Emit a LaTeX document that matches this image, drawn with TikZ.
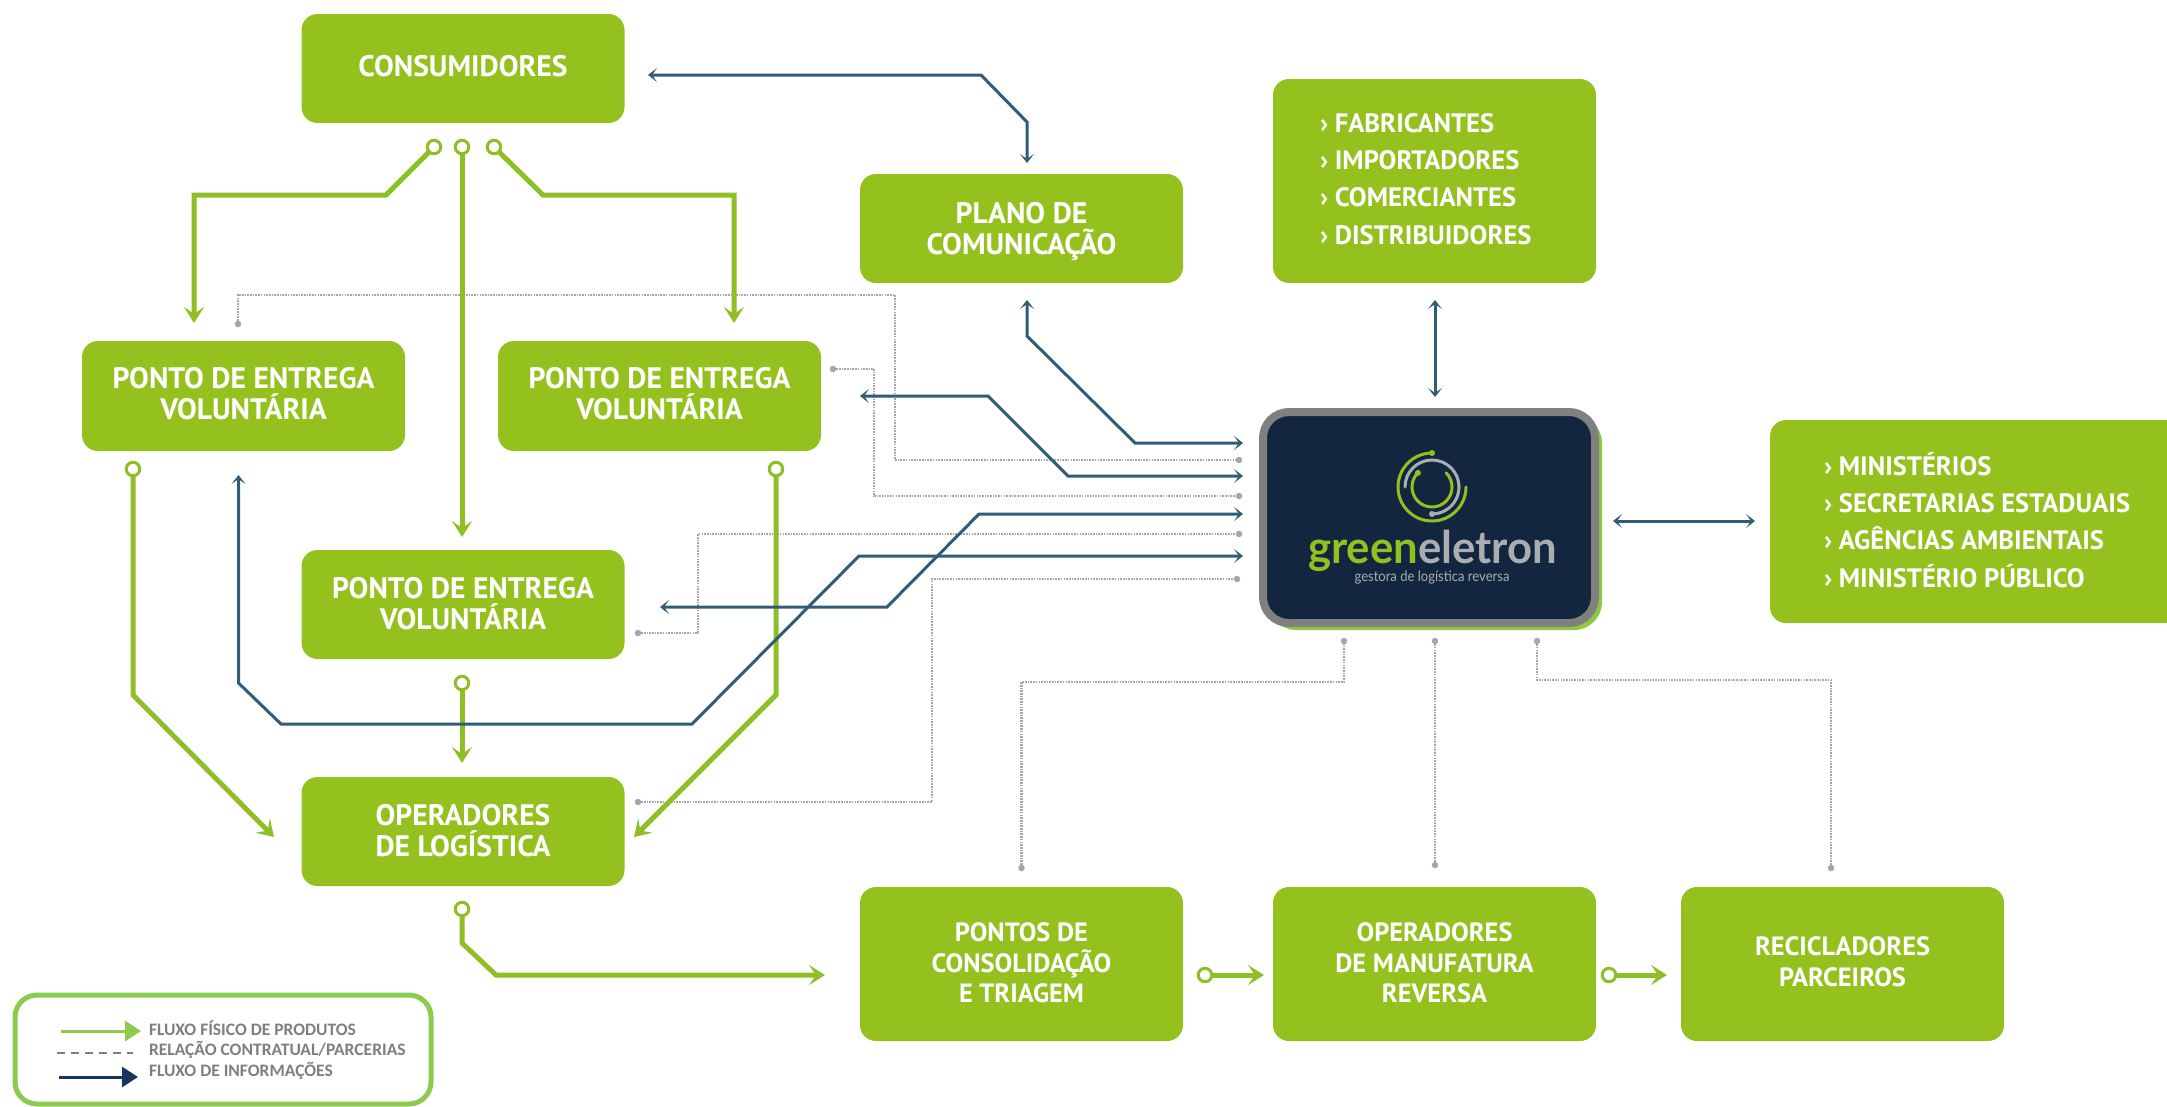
\documentclass[tikz,border=0pt]{standalone}
\usepackage{fontspec}
\setmainfont{PT Sans}
\newfontfamily\legendfont{Carlito}
\newfontfamily\logofont{Lato}
\usetikzlibrary{arrows.meta,calc}
\definecolor{boxgreen}{HTML}{95C11F}
\definecolor{flowgreen}{HTML}{8FBF26}
\definecolor{flowblue}{HTML}{2F5D78}
\definecolor{dotgray}{HTML}{A6A6A6}
\definecolor{navy}{HTML}{122640}
\definecolor{legendgreen}{HTML}{8CCB4E}
\definecolor{legendnavy}{HTML}{1A3560}
\definecolor{legendtext}{HTML}{7F7F7F}
\definecolor{logogray}{HTML}{ABADB0}
\definecolor{logogreen}{HTML}{93C01F}
\tikzset{
  every node/.style={inner sep=0pt,outer sep=0pt},
  gbox/.style={fill=boxgreen,rounded corners=16pt,minimum width=323pt},
  gtext/.style={text=white,align=center,font=\fontsize{29.6}{30.5}\selectfont\bfseries},
  gsmalltext/.style={text=white,align=center,font=\fontsize{26.4}{30.5}\selectfont\bfseries},
  listbox/.style={fill=boxgreen,rounded corners=16pt,text=white},
  listtext/.style={align=left,text=white,font=\fontsize{26.6}{37.2}\selectfont\bfseries},
  startring/.style={circle,draw=flowgreen,fill=white,line width=3pt,minimum size=13.5pt},
  dotend/.style={circle,fill=dotgray,minimum size=6.5pt},
  greenflow/.style={draw=flowgreen,line width=5pt,line join=miter,-{Stealth[length=16pt,width=20pt,inset=7pt]}},
  blueflow/.style={draw=flowblue,line width=3pt,line join=miter,{Stealth[length=9pt,width=14pt,inset=5pt]}-{Stealth[length=9pt,width=14pt,inset=5pt]}},
  dotflow/.style={draw=dotgray,line width=2.5pt,dash pattern=on 1.6pt off 1.1pt},
  legtext/.style={anchor=west,text=legendtext,font=\legendfont\fontsize{17.5}{19}\selectfont\bfseries},
}
% text style, name, x, y, box height, text offset, text
\newcommand{\gnode}[7]{%
  \node[gbox,minimum height=#5pt] (#2) at (#3,#4) {};
  \node[#1] (#2t) at ($(#2)+(0,#6)$) {#7};
}
\begin{document}
\begin{tikzpicture}[x=1pt,y=-1pt]
\useasboundingbox (0,0) rectangle (2167,1106);
% boxes
\gnode{gtext}{cons}{463}{68.5}{109}{-2.5}{CONSUMIDORES}
\gnode{gtext}{plano}{1021.5}{228.5}{109}{3}{PLANO DE\\COMUNICAÇÃO}
\gnode{gtext}{pev1}{243.5}{396}{110}{-2.5}{PONTO DE ENTREGA\\VOLUNTÁRIA}
\gnode{gtext}{pev2}{659.5}{396}{110}{-2.5}{PONTO DE ENTREGA\\VOLUNTÁRIA}
\gnode{gtext}{pev3}{463}{604.5}{109}{-1}{PONTO DE ENTREGA\\VOLUNTÁRIA}
\gnode{gtext}{oper}{463}{831.5}{109}{-1}{OPERADORES\\DE LOGÍSTICA}
\gnode{gsmalltext}{pontos}{1021.5}{964}{154}{-1}{PONTOS DE\\CONSOLIDAÇÃO\\E TRIAGEM}
\gnode{gsmalltext}{manuf}{1434.5}{964}{154}{-1}{OPERADORES\\DE MANUFATURA\\REVERSA}
\gnode{gsmalltext}{recic}{1842.5}{964}{154}{-2.5}{RECICLADORES\\PARCEIROS}
\node[listbox,minimum width=323pt,minimum height=204pt] (fabr) at (1434.5,181) {};
\node[listtext,anchor=west] (fabrt) at (1320,179) {› FABRICANTES\\› IMPORTADORES\\› COMERCIANTES\\› DISTRIBUIDORES};
\node[listbox,minimum width=420pt,minimum height=203pt] (mini) at (1980,521.5) {};
\node[listtext,anchor=west] (minit) at (1824,520) {› MINISTÉRIOS\\› SECRETARIAS ESTADUAIS\\› AGÊNCIAS AMBIENTAIS\\› MINISTÉRIO PÚBLICO};
% greeneletron
\node[fill=legendgreen!70!boxgreen,rounded corners=28pt,minimum width=334pt,minimum height=215pt] (geback) at (1435,522.5) {};
\node[fill=navy,draw=gray,line width=8pt,rounded corners=26pt,minimum width=332pt,minimum height=211pt] (ge) at (1429,517.5) {};
\coordinate (logoc) at (1432,487);
\draw[logogreen,line width=3pt,line cap=round] (logoc) ++(90:34pt) arc[start angle=90,end angle=360,radius=34pt];
\draw[logogray,line width=3pt,line cap=round] (logoc) ++(180:27pt) arc[start angle=180,end angle=-90,radius=27pt];
\draw[logogreen,line width=3pt,line cap=round] (logoc) ++(135:20pt) arc[start angle=135,end angle=405,radius=20pt];
\fill[logogreen] (logoc) ++(90:34pt) circle[radius=3pt];
\fill[logogray] (logoc) ++(-90:27pt) circle[radius=3pt];
\fill[logogreen] (logoc) ++(135:20pt) circle[radius=3pt];
\node[anchor=base,font=\logofont\fontsize{45}{45}\selectfont\bfseries] (gename) at (1432.5,563) {\scalebox{0.97}[1]{\textcolor{logogreen}{green}\textcolor{logogray}{eletron}}};
\node[anchor=base,text=logogray,font=\logofont\fontsize{14.5}{14.5}\selectfont] (getag) at (1432,581.5) {\scalebox{0.9}[1]{gestora de logística reversa}};
% start rings
\node[startring] (r1) at (434,147) {};
\node[startring] (r2) at (462,147) {};
\node[startring] (r3) at (494,147) {};
\node[startring] (r4) at (133,469) {};
\node[startring] (r5) at (776,469) {};
\node[startring] (r6) at (462,683) {};
\node[startring] (r7) at (462,909) {};
\node[startring] (r8) at (1205,975) {};
\node[startring] (r9) at (1609,975) {};
% dot ends
\node[dotend] (d1a) at (238,324) {};
\node[dotend] (d1b) at (1239,460) {};
\node[dotend] (d2a) at (833,369) {};
\node[dotend] (d2b) at (1239,496) {};
\node[dotend] (d3a) at (638,633) {};
\node[dotend] (d3b) at (1239,534) {};
\node[dotend] (d4a) at (638,802) {};
\node[dotend] (d4b) at (1237,579) {};
\node[dotend] (d5a) at (1021.5,868) {};
\node[dotend] (d5b) at (1344,641) {};
\node[dotend] (d6a) at (1435,865) {};
\node[dotend] (d6b) at (1435,641) {};
\node[dotend] (d7a) at (1831,868) {};
\node[dotend] (d7b) at (1537,641) {};
% dotted
\coordinate (e1) at (238,295); \coordinate (e2) at (895,295); \coordinate (e3) at (895,460);
\draw[dotflow] (d1a) -- (e1) -- (e2) -- (e3) -- (d1b);
\coordinate (e4) at (874,369); \coordinate (e5) at (874,496);
\draw[dotflow] (d2a) -- (e4) -- (e5) -- (d2b);
\coordinate (e6) at (698,633); \coordinate (e7) at (698,534);
\draw[dotflow] (d3a) -- (e6) -- (e7) -- (d3b);
\coordinate (e8) at (932,802); \coordinate (e9) at (932,579);
\draw[dotflow] (d4a) -- (e8) -- (e9) -- (d4b);
\coordinate (e10) at (1021.5,682); \coordinate (e11) at (1344,682);
\draw[dotflow] (d5a) -- (e10) -- (e11) -- (d5b);
\draw[dotflow] (d6a) -- (d6b);
\coordinate (e12) at (1831,680); \coordinate (e13) at (1537,680);
\draw[dotflow] (d7a) -- (e12) -- (e13) -- (d7b);
% green flows
\coordinate (g1a) at (386,195); \coordinate (g1b) at (194,195); \coordinate (g1c) at (194,323);
\draw[greenflow] (r1) -- (g1a) -- (g1b) -- (g1c);
\coordinate (g3a) at (543,195); \coordinate (g3b) at (734,195); \coordinate (g3c) at (734,323);
\draw[greenflow] (r3) -- (g3a) -- (g3b) -- (g3c);
\coordinate (g2c) at (462,537);
\draw[greenflow] (r2) -- (g2c);
\coordinate (g4a) at (133,695); \coordinate (g4c) at (274,837);
\draw[greenflow] (r4) -- (g4a) -- (g4c);
\coordinate (g5a) at (776,695); \coordinate (g5c) at (634,837);
\draw[greenflow] (r5) -- (g5a) -- (g5c);
\coordinate (g6c) at (462,763);
\draw[greenflow] (r6) -- (g6c);
\coordinate (g7a) at (462,943); \coordinate (g7b) at (496,975); \coordinate (g7c) at (825,975);
\draw[greenflow] (r7) -- (g7a) -- (g7b) -- (g7c);
\coordinate (g8c) at (1264,975);
\draw[greenflow] (r8) -- (g8c);
\coordinate (g9c) at (1667,975);
\draw[greenflow] (r9) -- (g9c);
% blue flows
\coordinate (b1a) at (648,75); \coordinate (b1b) at (981,75); \coordinate (b1c) at (1027,122); \coordinate (b1d) at (1027,163);
\draw[blueflow] (b1a) -- (b1b) -- (b1c) -- (b1d);
\coordinate (b2a) at (1027,300); \coordinate (b2b) at (1027,336); \coordinate (b2c) at (1135,443); \coordinate (b2d) at (1243,443);
\draw[blueflow] (b2a) -- (b2b) -- (b2c) -- (b2d);
\coordinate (b3a) at (860,396); \coordinate (b3b) at (988,396); \coordinate (b3c) at (1068,476); \coordinate (b3d) at (1243,476);
\draw[blueflow] (b3a) -- (b3b) -- (b3c) -- (b3d);
\coordinate (b4a) at (660,607); \coordinate (b4b) at (887,607); \coordinate (b4c) at (979,514); \coordinate (b4d) at (1243,514);
\draw[blueflow] (b4a) -- (b4b) -- (b4c) -- (b4d);
\coordinate (b5a) at (238.5,475); \coordinate (b5b) at (238.5,683); \coordinate (b5c) at (281,724); \coordinate (b5d) at (692,724); \coordinate (b5e) at (859,556); \coordinate (b5f) at (1243,556);
\draw[blueflow] (b5a) -- (b5b) -- (b5c) -- (b5d) -- (b5e) -- (b5f);
\coordinate (b6a) at (1435,300); \coordinate (b6b) at (1435,397);
\draw[blueflow] (b6a) -- (b6b);
\coordinate (b7a) at (1613,521); \coordinate (b7b) at (1755,521);
\draw[blueflow] (b7a) -- (b7b);
% legend
\node[draw=legendgreen,fill=white,line width=5pt,rounded corners=22pt,minimum width=416pt,minimum height=109pt] (leg) at (223,1049.5) {};
\coordinate (l1a) at (61,1031); \coordinate (l1b) at (141,1031);
\draw[legendgreen,line width=3pt,-{Triangle[length=16pt,width=20pt]}] (l1a) -- (l1b);
\coordinate (l2a) at (57,1053); \coordinate (l2b) at (133,1053);
\draw[gray,line width=2.5pt,dash pattern=on 8pt off 6pt] (l2a) -- (l2b);
\coordinate (l3a) at (59,1077); \coordinate (l3b) at (138,1077);
\draw[legendnavy,line width=3pt,-{Triangle[length=16pt,width=20pt]}] (l3a) -- (l3b);
\node[legtext] (lt1) at (149,1028.5) {FLUXO FÍSICO DE PRODUTOS};
\node[legtext] (lt2) at (149,1049.5) {RELAÇÃO CONTRATUAL/PARCERIAS};
\node[legtext] (lt3) at (149,1070.5) {FLUXO DE INFORMAÇÕES};
\end{tikzpicture}
\end{document}
